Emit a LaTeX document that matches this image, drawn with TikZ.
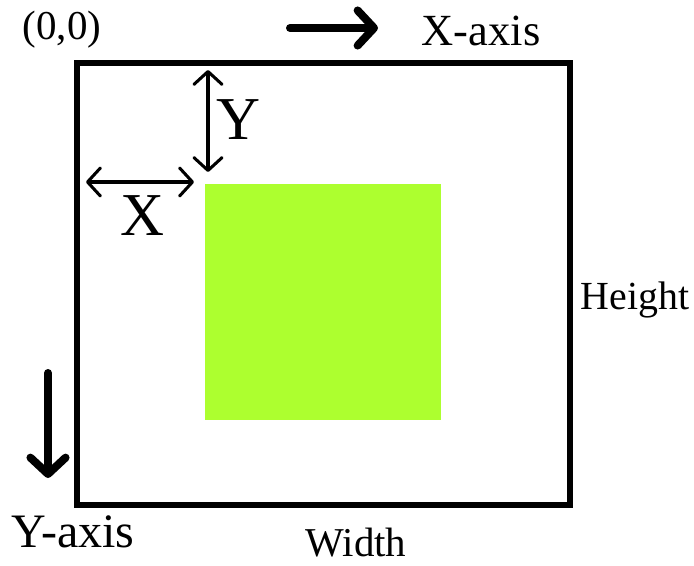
\documentclass[tikz,border=0pt]{standalone}
\usepackage{fontspec}
\setmainfont{Liberation Serif}
\usetikzlibrary{arrows.meta,positioning}
\definecolor{limefill}{HTML}{ADFF2F}
\tikzset{
  frame/.style={draw=black,line width=4.3pt},
  box/.style={fill=limefill,draw=none},
  dimarrow/.style={{Straight Barb[round,length=11pt,width=24pt]}-{Straight Barb[round,length=11pt,width=24pt]},line width=2.6pt},
  axisarrow/.style={-{Straight Barb[round,length=14pt,width=30pt]},line width=6.8pt,line cap=round},
  lbl/.style={font=\fontsize{#1}{#1}\selectfont,inner sep=0pt},
  lbl/.default=36,
}
\begin{document}
\begin{tikzpicture}[x=0.03cm,y=-0.03cm]
  \useasboundingbox[fill=white] (0,0) rectangle (694,566);
  \draw[frame] (77,63) rectangle (570,505);
  \fill[box] (205,184) rectangle (441,420);
  % dimension arrows
  \coordinate (ytop) at (208,70);
  \coordinate (ybot) at (208,172);
  \coordinate (xl) at (86,182);
  \coordinate (xr) at (194,182);
  \draw[dimarrow] (ytop) -- (ybot);
  \draw[dimarrow] (xl) -- (xr);
  \node[lbl=52] (ylbl) at (238,120) {Y};
  \node[lbl=52] (xlbl) at (142,216) {X};
  % axes
  \coordinate (xa0) at (290,28);
  \coordinate (xa1) at (378,28);
  \coordinate (ya0) at (48,373);
  \coordinate (ya1) at (48,478);
  \draw[axisarrow] (xa0) -- (xa1);
  \draw[axisarrow] (ya0) -- (ya1);
  \node[lbl=35] (origin) at (62,30) {(0,0)};
  \node[lbl=38] (xaxis) at (481,31) {X-axis};
  \node[lbl=41] (yaxis) at (73,532) {Y-axis};
  \node[lbl=34] (height) at (635,300) {Height};
  \node[lbl=35] (width) at (356,543) {Width};
\end{tikzpicture}
\end{document}
